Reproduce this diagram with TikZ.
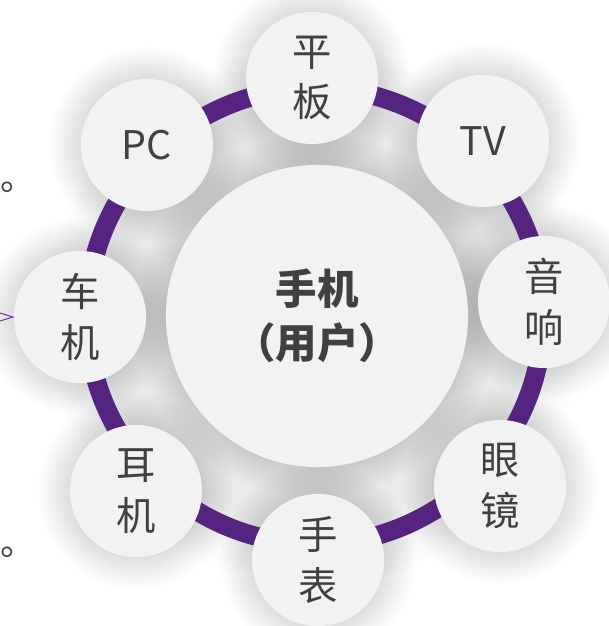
\documentclass[tikz,border=0pt]{standalone}
\usepackage{fontspec}
\setmainfont{Noto Sans CJK SC}
\definecolor{ringc}{RGB}{84,36,128}
\definecolor{cfill}{RGB}{242,242,242}
\definecolor{txt}{RGB}{64,64,64}
\definecolor{arrowc}{RGB}{112,48,160}
\begin{document}
\begin{tikzpicture}[x=0.025cm,y=0.025cm,
 dev/.style={circle, fill=cfill, minimum size=3.3cm, inner sep=0pt, align=center, text=txt, font=\fontsize{28}{36}\selectfont},
 hub/.style={circle, fill=cfill, minimum size=7.55cm, inner sep=0pt, align=center, text=txt, font=\fontsize{29.5}{38}\selectfont\bfseries},
 band/.style={draw=ringc, line width=0.475cm},
 halo/.style={fill=black, opacity=0.008},
 haze/.style={fill=black, opacity=0.007},
 fragtext/.style={inner sep=0pt, anchor=base west, text=txt, font=\fontsize{25}{25}\selectfont},
 chev/.style={draw=arrowc, line width=0.7pt},
 ]
\useasboundingbox (0,0) rectangle (608,626);
\fill[white] (0,0) rectangle (608,626);
% centres
\coordinate (cc) at (317,310);
\coordinate (ringctr) at (315,310);
\coordinate (cpb) at (312,548);
\coordinate (ctv) at (483,485);
\coordinate (cyx) at (544,324);
\coordinate (cyj) at (500,140);
\coordinate (csb) at (318,66);
\coordinate (cej) at (136,135);
\coordinate (ccj) at (80,309);
\coordinate (cpc) at (147,481);
% general haze behind the ring
\foreach \k in {0,...,9}{
  \fill[haze] (ringctr) circle ({215+\k*6});
}
% soft shadows
\foreach \p/\r in {cc/151,cpb/66,ctv/66,cyx/66,cyj/66,csb/66,cej/66,ccj/66,cpc/66}{
  \foreach \k in {1,...,16}{
    \fill[halo] (\p) circle ({\r+\k*2});
  }
}
% ring
\draw[band] (ringctr) circle (228);
% nodes
\node[hub] (hub) at (cc) {手机\\（用户）};
\node[dev] (pb) at (cpb) {平\\板};
\node[dev] (tv) at (ctv) {TV};
\node[dev] (yx) at (cyx) {音\\响};
\node[dev] (yj) at (cyj) {眼\\镜};
\node[dev] (sb) at (csb) {手\\表};
\node[dev] (ej) at (cej) {耳\\机};
\node[dev] (cj) at (ccj) {车\\机};
\node[dev] (pc) at (cpc) {PC};
% left fragments
\node[fragtext] (m1) at (0,435) {。};
\node[fragtext] (m2) at (0,70) {。};
\coordinate (a1) at (0,313);
\coordinate (tip) at (13,309);
\coordinate (a2) at (0,305);
\draw[chev] (a1) -- (tip) -- (a2);
\end{tikzpicture}
\end{document}
